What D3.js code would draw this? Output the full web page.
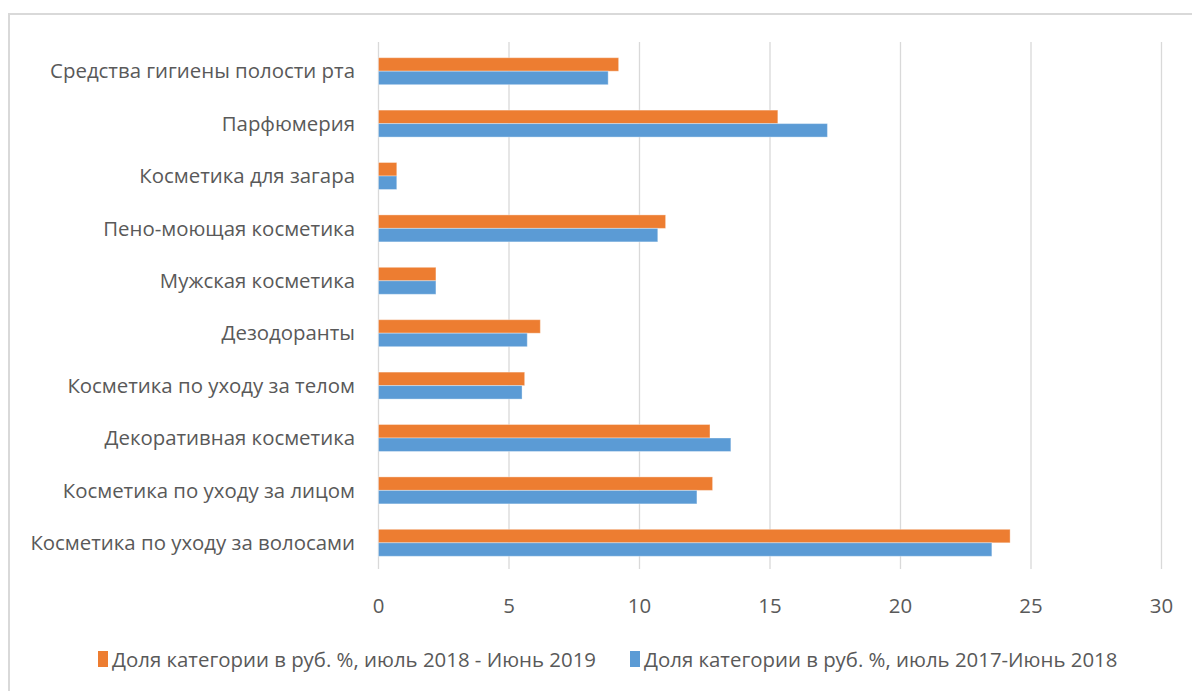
<!DOCTYPE html>
<html>
<head>
<meta charset="utf-8">
<script src="https://cdn.jsdelivr.net/npm/d3@7"></script>
<style>
  html, body { margin: 0; padding: 0; background: #fff; }
  svg { display: block; }
  text { font-family: "Open Sans", "Noto Sans", sans-serif; fill: #595959; }
</style>
</head>
<body>
<svg id="chart" width="1192" height="691"></svg>
<script>
// Categories, top to bottom
const categories = [
  "Средства гигиены полости рта",
  "Парфюмерия",
  "Косметика для загара",
  "Пено-моющая косметика",
  "Мужская косметика",
  "Дезодоранты",
  "Косметика по уходу за телом",
  "Декоративная косметика",
  "Косметика по уходу за лицом",
  "Косметика по уходу за волосами"
];
// Share of category, % in roubles
const share2018_2019 = [9.2, 15.3, 0.7, 11.0, 2.2, 6.2, 5.6, 12.7, 12.8, 24.2];
const share2017_2018 = [8.8, 17.2, 0.7, 10.7, 2.2, 5.7, 5.5, 13.5, 12.2, 23.5];
const seriesNames = [
  "Доля категории в руб. %, июль 2018 - Июнь 2019",
  "Доля категории в руб. %, июль 2017-Июнь 2018"
];
const seriesColors = ["#ED7D31", "#5B9BD5"];
const xTicks = [0, 5, 10, 15, 20, 25, 30];

const series = [share2018_2019, share2017_2018];
const FONT = 20.4;

const svg = d3.select("#chart");

// Chart area frame
svg.append("rect")
  .attr("x", 9).attr("y", 14)
  .attr("width", 1200).attr("height", 700)
  .attr("fill", "#fff")
  .attr("stroke", "#d9d9d9").attr("stroke-width", 2);

const plot = { left: 378.5, right: 1161.5, top: 45, bottom: 569 };

const x = d3.scaleLinear().domain([0, 30]).range([plot.left, plot.right]);
const y = d3.scaleBand().domain(categories)
  .range([plot.top, plot.bottom])
  .paddingInner(0.485).paddingOuter(0.2425);
const ySub = d3.scaleBand().domain([0, 1]).range([0, y.bandwidth()]);

// Vertical gridlines
svg.append("g").selectAll("line")
  .data(xTicks)
  .join("line")
  .attr("x1", d => x(d)).attr("x2", d => x(d))
  .attr("y1", 42).attr("y2", plot.bottom)
  .attr("stroke", "#d9d9d9").attr("stroke-width", 1.3);

// Bars
const rows = svg.append("g").selectAll("g")
  .data(categories)
  .join("g")
  .attr("transform", d => `translate(0,${y(d)})`);

rows.selectAll("rect")
  .data((d, i) => series.map((s, k) => ({ k, v: s[i] })))
  .join("rect")
  .attr("x", x(0))
  .attr("y", d => ySub(d.k))
  .attr("width", d => x(d.v) - x(0))
  .attr("height", ySub.bandwidth())
  .attr("fill", d => seriesColors[d.k])
  .attr("stroke", "#fff").attr("stroke-opacity", 0.35).attr("stroke-width", 1);

// Category labels
svg.append("g").selectAll("text")
  .data(categories)
  .join("text")
  .attr("x", 355)
  .attr("y", d => y(d) + y.bandwidth() / 2)
  .attr("dy", "0.35em")
  .attr("text-anchor", "end")
  .attr("font-size", FONT)
  .text(d => d);

// Value axis tick labels
svg.append("g").selectAll("text")
  .data(xTicks)
  .join("text")
  .attr("x", d => x(d))
  .attr("y", 613)
  .attr("text-anchor", "middle")
  .attr("font-size", FONT)
  .text(d => d);

// Legend
const legendItems = [
  { x: 98, name: seriesNames[0], color: seriesColors[0] },
  { x: 630, name: seriesNames[1], color: seriesColors[1] }
];
const lg = svg.append("g").selectAll("g")
  .data(legendItems)
  .join("g")
  .attr("transform", d => `translate(${d.x},651)`);
lg.append("rect")
  .attr("width", 10).attr("height", 16)
  .attr("fill", d => d.color);
lg.append("text")
  .attr("x", 14).attr("y", 16)
  .attr("font-size", FONT)
  .text(d => d.name);
</script>
</body>
</html>
